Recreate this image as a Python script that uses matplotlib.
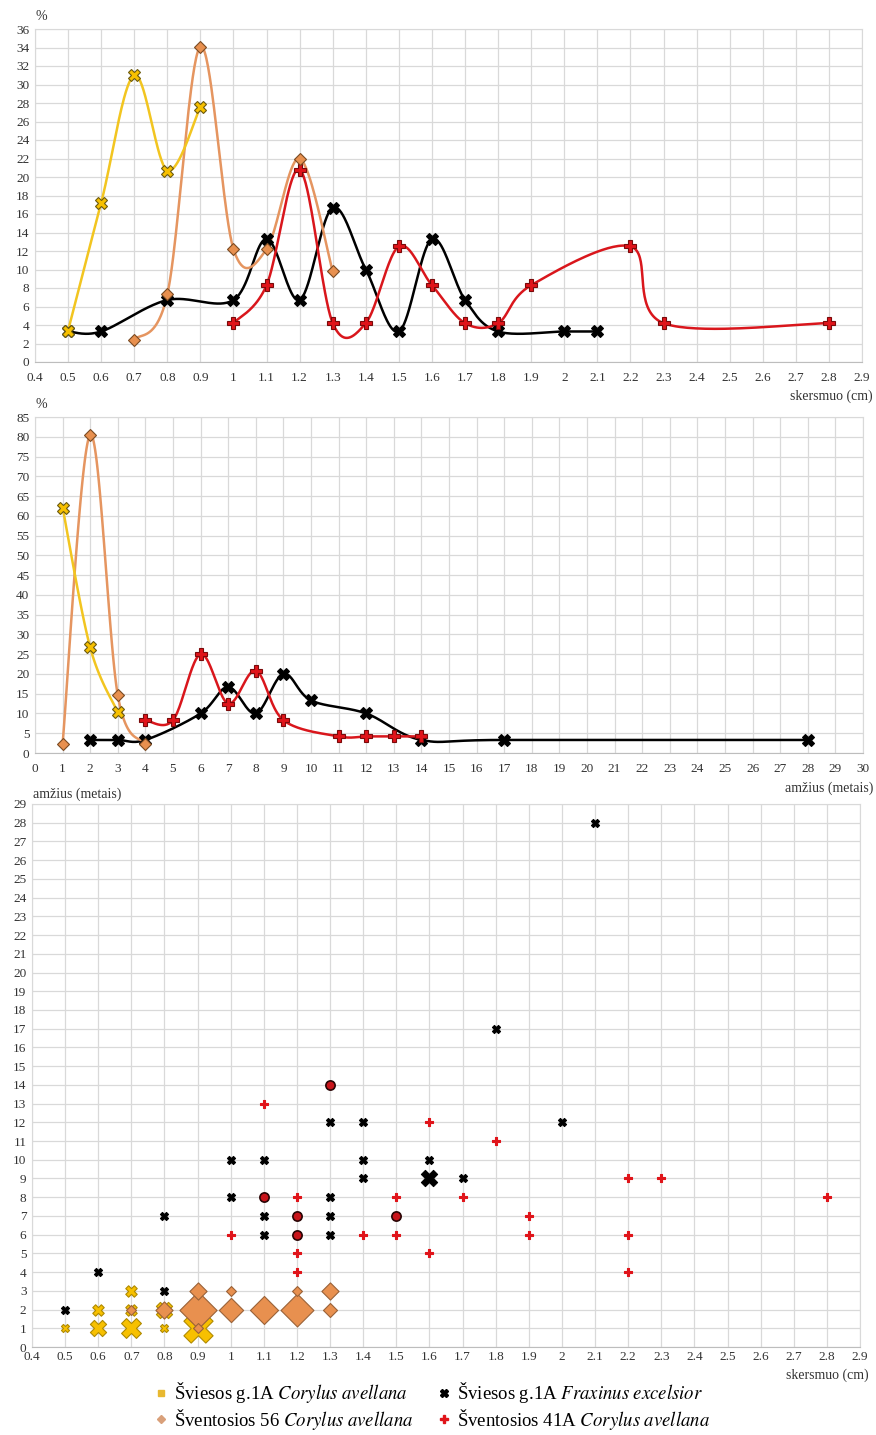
import numpy as np
import matplotlib
matplotlib.use("Agg")
import matplotlib.pyplot as plt
from matplotlib.lines import Line2D

plt.rcParams['font.family'] = ['Liberation Serif', 'DejaVu Serif']
plt.rcParams['mathtext.fontset'] = 'stix'

# --- diameter distribution (%), top chart ---
sv_cor_d_x = [0.5, 0.6, 0.7, 0.8, 0.9]
sv_cor_d_y = [3.4, 17.2, 31.0, 20.7, 27.6]
sv56_d_x = [0.7, 0.8, 0.9, 1.0, 1.1, 1.2, 1.3]
sv56_d_y = [2.4, 7.3, 34.1, 12.2, 12.2, 22.0, 9.8]
sv_fra_d_x = [0.5, 0.6, 0.8, 1.0, 1.1, 1.2, 1.3, 1.4, 1.5, 1.6, 1.7, 1.8, 2.0, 2.1]
sv_fra_d_y = [3.3, 3.3, 6.7, 6.7, 13.3, 6.7, 16.7, 10.0, 3.3, 13.3, 6.7, 3.3, 3.3, 3.3]
sv41_d_x = [1.0, 1.1, 1.2, 1.3, 1.4, 1.5, 1.6, 1.7, 1.8, 1.9, 2.2, 2.3, 2.8]
sv41_d_y = [4.2, 8.3, 20.8, 4.2, 4.2, 12.5, 8.3, 4.2, 4.2, 8.3, 12.5, 4.2, 4.2]

# --- age distribution (%), middle chart ---
sv_cor_a_x = [1, 2, 3]
sv_cor_a_y = [62.1, 26.7, 10.3]
sv56_a_x = [1, 2, 3, 4]
sv56_a_y = [2.4, 80.5, 14.6, 2.4]
sv_fra_a_x = [2, 3, 4, 6, 7, 8, 9, 10, 12, 14, 17, 28]
sv_fra_a_y = [3.3, 3.3, 3.3, 10.0, 16.7, 10.0, 20.0, 13.3, 10.0, 3.3, 3.3, 3.3]
sv41_a_x = [4, 5, 6, 7, 8, 9, 11, 12, 13, 14]
sv41_a_y = [8.3, 8.3, 25.0, 12.5, 20.8, 8.3, 4.2, 4.2, 4.2, 4.2]

# --- diameter vs age, bottom chart (count = number of stems) ---
sv_cor_x = [0.5, 0.6, 0.6, 0.7, 0.7, 0.7, 0.8, 0.8, 0.9]
sv_cor_y = [1, 1, 2, 1, 2, 3, 1, 2, 1]
sv_cor_n = [1, 4, 2, 6, 2, 2, 1, 4, 13]
sv56_x = [0.7, 0.8, 0.9, 0.9, 0.9, 1.0, 1.0, 1.1, 1.2, 1.2, 1.3, 1.3]
sv56_y = [2, 2, 1, 2, 3, 2, 3, 2, 2, 3, 2, 3]
sv56_n = [1, 3, 1, 14, 3, 6, 1, 8, 11, 1, 2, 3]
sv_fra_x = [0.5, 0.6, 0.8, 0.8, 1.0, 1.0, 1.1, 1.1, 1.1, 1.1, 1.2, 1.2, 1.3, 1.3,
            1.3, 1.3, 1.3, 1.4, 1.4, 1.4, 1.5, 1.6, 1.6, 1.7, 1.8, 2.0, 2.1]
sv_fra_y = [2, 4, 3, 7, 8, 10, 6, 7, 8, 10, 6, 7, 6, 7, 8, 12, 14, 9, 10, 12, 7,
            9, 10, 9, 17, 12, 28]
sv_fra_n = [1, 1, 1, 1, 1, 1, 1, 1, 1, 1, 1, 1, 1, 1, 1, 1, 1, 1, 1, 1, 1, 4, 1, 1, 1, 1, 1]
sv41_x = [1.0, 1.1, 1.1, 1.2, 1.2, 1.2, 1.2, 1.2, 1.3, 1.4, 1.5, 1.5, 1.5, 1.6,
          1.6, 1.7, 1.8, 1.9, 1.9, 2.2, 2.2, 2.2, 2.3, 2.8]
sv41_y = [6, 8, 13, 4, 5, 6, 7, 8, 14, 6, 6, 7, 8, 5, 12, 8, 11, 6, 7, 4, 6, 9, 9, 8]

series_names = [r"Šviesos g.1A $\mathit{Corylus\ avellana}$",
                r"Šventosios 56 $\mathit{Corylus\ avellana}$",
                r"Šviesos g.1A $\mathit{Fraxinus\ excelsior}$",
                r"Šventosios 41A $\mathit{Corylus\ avellana}$"]

YEL_LINE, YEL_FILL, YEL_EDGE = "#F2C520", "#F7C000", "#6b5a10"
ORA_LINE, ORA_FILL, ORA_EDGE = "#E59560", "#E8904F", "#7a4a22"
RED_LINE, RED_FILL, RED_EDGE = "#D9161C", "#E0141A", "#7a0a0a"
GRID = "#d9d9d9"


def smooth(ax, xs, ys, n=40):
    # Excel-like smoothed line: cubic Bezier through points in screen space
    pts = ax.transData.transform(np.column_stack([xs, ys]))
    out = []
    t = np.linspace(0, 1, n)[:, None]
    for i in range(len(pts) - 1):
        p0 = pts[i - 1] if i > 0 else pts[i]
        p1, p2 = pts[i], pts[i + 1]
        p3 = pts[i + 2] if i + 2 < len(pts) else pts[i + 1]
        c1 = p1 + (p2 - p0) / 6
        c2 = p2 - (p3 - p1) / 6
        out.append((1 - t) ** 3 * p1 + 3 * (1 - t) ** 2 * t * c1 + 3 * (1 - t) * t ** 2 * c2 + t ** 3 * p2)
    return ax.transData.inverted().transform(np.vstack(out)).T


def style(ax, xticks, yticks, xfmt, xpad=7):
    ax.set_xlim(xticks[0], xticks[-1])
    ax.set_ylim(yticks[0], yticks[-1])
    ax.set_xticks(xticks)
    ax.set_yticks(yticks)
    ax.set_xticklabels([xfmt(v) for v in xticks])
    ax.grid(True, color=GRID, lw=0.9)
    ax.set_axisbelow(True)
    for s in ax.spines.values():
        s.set_color(GRID)
    ax.spines['bottom'].set_color("#bdbdbd")
    ax.tick_params(length=0, labelsize=9.5, colors="#333333")
    ax.tick_params(axis='x', pad=xpad)
    ax.tick_params(axis='y', pad=4)


def line_series(ax, x, y, lc, fc, ec, marker, ms):
    sx, sy = smooth(ax, x, y)
    ax.plot(sx, sy, color=lc, lw=1.8, zorder=2, solid_capstyle='round')
    ax.plot(x, y, ls='none', marker=marker, ms=ms, mfc=fc, mec=ec, mew=0.8, zorder=3)


fig = plt.figure(figsize=(8.76, 14.35), dpi=100)
W, H = 876, 1435


def box(l, t, r, b):
    return [l / W, 1 - b / H, (r - l) / W, (b - t) / H]


dia_ticks = [round(0.4 + 0.1 * i, 1) for i in range(26)]
fmt_dia = lambda v: f"{v:g}"

# top chart
ax1 = fig.add_axes(box(35, 29, 862, 362))
style(ax1, dia_ticks, list(range(0, 37, 2)), fmt_dia)
line_series(ax1, sv_fra_d_x, sv_fra_d_y, "black", "black", "black", "X", 8)
line_series(ax1, sv41_d_x, sv41_d_y, RED_LINE, RED_FILL, RED_EDGE, "P", 8)
line_series(ax1, sv56_d_x, sv56_d_y, ORA_LINE, ORA_FILL, ORA_EDGE, "D", 6)
line_series(ax1, sv_cor_d_x, sv_cor_d_y, YEL_LINE, YEL_FILL, YEL_EDGE, "X", 8)
fig.text(36 / W, 1 - 16 / H, "%", fontsize=10, color="#333333", va='center')
fig.text(873 / W, 1 - 396 / H, "skersmuo (cm)", fontsize=10, color="#333333", ha='right', va='center')

# middle chart
ax2 = fig.add_axes(box(35, 417, 863, 753))
style(ax2, list(range(0, 31)), list(range(0, 86, 5)), str)
line_series(ax2, sv_fra_a_x, sv_fra_a_y, "black", "black", "black", "X", 8)
line_series(ax2, sv41_a_x, sv41_a_y, RED_LINE, RED_FILL, RED_EDGE, "P", 8)
line_series(ax2, sv56_a_x, sv56_a_y, ORA_LINE, ORA_FILL, ORA_EDGE, "D", 6)
line_series(ax2, sv_cor_a_x, sv_cor_a_y, YEL_LINE, YEL_FILL, YEL_EDGE, "X", 8)
fig.text(36 / W, 1 - 405 / H, "%", fontsize=10, color="#333333", va='center')
fig.text(873 / W, 1 - 788 / H, "amžius (metais)", fontsize=10, color="#333333", ha='right', va='center')

# bottom chart
ax3 = fig.add_axes(box(32, 804, 860, 1347))
style(ax3, dia_ticks, list(range(0, 30)), fmt_dia, xpad=3)
fig.text(33 / W, 1 - 794 / H, "amžius (metais)", fontsize=10, color="#333333", va='center')
fig.text(869 / W, 1 - 1375 / H, "skersmuo (cm)", fontsize=10, color="#333333", ha='right', va='center')

base = 34
pts = []
for x, y, n in zip(sv_cor_x, sv_cor_y, sv_cor_n):
    pts.append((n, x, y, "X", YEL_FILL, "#b08a00", 3))
for x, y, n in zip(sv56_x, sv56_y, sv56_n):
    pts.append((n * 0.75, x, y, "D", ORA_FILL, "#9a6238", 3))
for x, y, n in zip(sv_fra_x, sv_fra_y, sv_fra_n):
    pts.append((n, x, y, "X", "black", "black", 3))
black_pts = set(zip(sv_fra_x, sv_fra_y))
for x, y in zip(sv41_x, sv41_y):
    if (x, y) in black_pts:
        # red and black marks on the same spot
        pts.append((1.3, x, y, "o", "#C8141A", "#2a0505", 5))
    else:
        pts.append((1.15, x, y, "P", RED_FILL, RED_FILL, 4))
# largest bubbles go underneath
for n, x, y, m, fc, ec, z in sorted(pts, key=lambda p: -p[0]):
    ax3.scatter([x], [y], s=base * n, marker=m, c=fc, edgecolors=ec,
                linewidths=1.2 if m == "o" else 0.8, zorder=z)

handles = [
    Line2D([], [], ls='none', marker='s', ms=5, mfc="#E8B830", mec="#E8B830"),
    Line2D([], [], ls='none', marker='D', ms=4.5, mfc="#D9A07A", mec="#D9A07A"),
    Line2D([], [], ls='none', marker='X', ms=6, mfc="black", mec="black"),
    Line2D([], [], ls='none', marker='P', ms=6, mfc=RED_FILL, mec=RED_FILL),
]
fig.legend(handles, series_names, ncol=2, loc='center', bbox_to_anchor=(0.494, 1 - 1406 / H),
           frameon=False, fontsize=13.5, handlelength=0.6, handletextpad=0.4,
           columnspacing=1.3, labelspacing=0.1, borderpad=0)

fig.savefig("out.png", dpi=100)
